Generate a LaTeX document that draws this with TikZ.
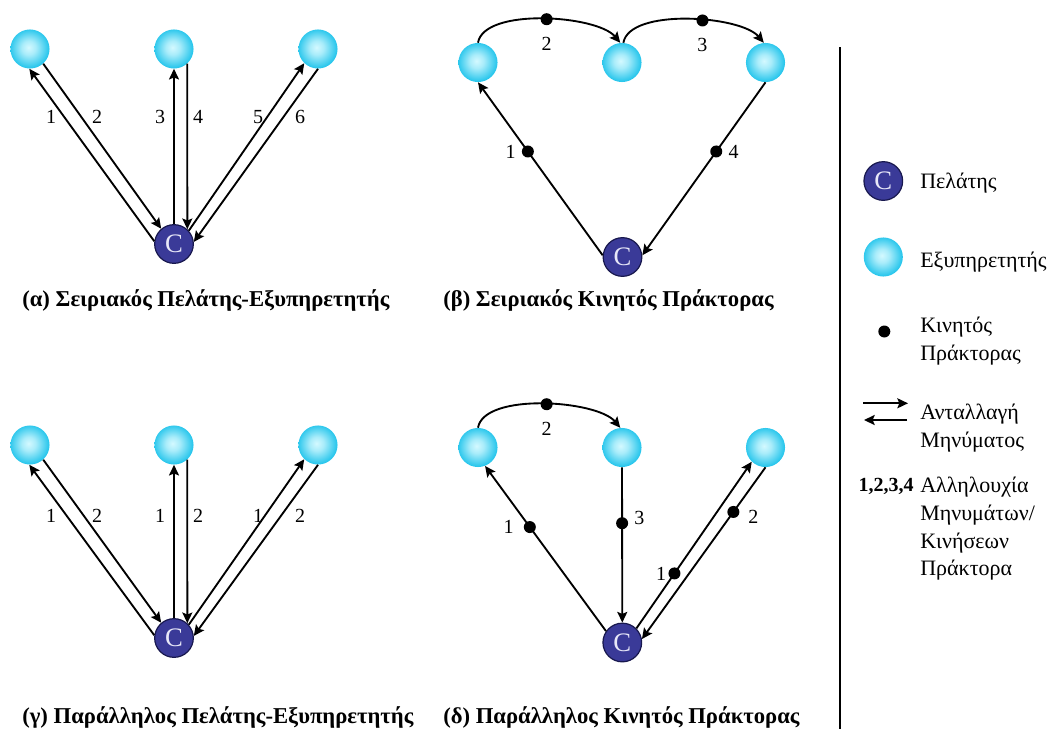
\documentclass[tikz,border=0pt]{standalone}
\usepackage{fontspec}
\setmainfont{Liberation Serif}
\usetikzlibrary{arrows.meta}

\definecolor{srvin}{RGB}{212,249,255}
\definecolor{srvout}{RGB}{40,198,236}
\definecolor{cliblue}{RGB}{58,58,152}
\definecolor{cliedge}{RGB}{24,24,78}
\definecolor{clitext}{RGB}{232,232,248}
\pgfdeclareradialshading{srvball}{\pgfpoint{-2bp}{2bp}}{color(0bp)=(srvin); color(9bp)=(srvin!75!srvout); color(25bp)=(srvout); color(50bp)=(srvout)}

\tikzset{
  srv/.style={circle,inner sep=0pt,minimum size=29.3pt,shading=srvball},
  cli/.style={circle,inner sep=0pt,minimum size=29pt,fill=cliblue,draw=cliedge,line width=.9pt,text=clitext,font=\fontsize{20}{20}\selectfont},
  agent/.style={circle,inner sep=0pt,minimum size=9pt,fill=black},
  msg/.style={line width=1.4pt,-{Stealth[length=8pt,width=7.5pt,inset=1.5pt]}},
  num/.style={font=\fontsize{15}{15}\selectfont,inner sep=0pt},
  captxt/.style={font=\bfseries\fontsize{17}{17}\selectfont,anchor=base west,inner sep=0pt},
  legtxt/.style={font=\fontsize{16.5}{20.8}\selectfont,align=left,anchor=north west,inner sep=0pt},
}

\begin{document}
\begin{tikzpicture}[x=0.75pt,y=-0.75pt,every label/.append style={font=\fontsize{15}{15}\selectfont}]
        \useasboundingbox (0,0) rectangle (1050,729);
        % (a) serial client-server
        \node[srv] (sa1) at (30,49) {};
        \node[srv] (sa2) at (174,49) {};
        \node[srv] (sa3) at (318,49) {};
        \node[cli] (ca) at (174,244) {C};
        \draw[msg] (ca.172) -- (sa1.-92);
        \draw[msg] (sa1.-48) -- (ca.130);
        \draw[msg] (ca.90) -- (sa2.-90);
        \draw[msg] (sa2.-48) -- (ca.48);
        \draw[msg] (ca.42) -- (sa3.-134);
        \draw[msg] (sa3.-90) -- (ca.6);
        \node[num] (na1) at (51,117) {1};
        \node[num] (na2) at (97,117) {2};
        \node[num] (na3) at (160,117) {3};
        \node[num] (na4) at (198,117) {4};
        \node[num] (na5) at (258,117) {5};
        \node[num] (na6) at (300,117) {6};
        \node[captxt] (capa) at (22,306.5) {(α) Σειριακός Πελάτης-Εξυπηρετητής};
        % (b) serial mobile agent
        \node[srv] (sb1) at (478,62.5) {};
        \node[srv] (sb2) at (622,62.5) {};
        \node[srv] (sb3) at (765.5,62.5) {};
        \node[cli] (cb) at (622.5,257) {C};
        \draw[msg] (cb.175) -- node[agent,pos=.6,label=left:1] (mb1) {} (sb1.-90);
        \draw[msg] (sb1.90) to[out=80,in=130,looseness=.65] node[agent,pos=.52,label={[label distance=4pt]below:2}] (mb2) {} (sb2.95);
        \draw[msg] (sb2.86) to[out=80,in=130,looseness=.65] node[agent,pos=.58,label={[label distance=4pt]below:3}] (mb3) {} (sb3.95);
        \draw[msg] (sb3.-90) -- node[agent,pos=.4,label=right:4] (mb4) {} (cb.5);
        \node[captxt] (capb) at (443,306.5) {(β) Σειριακός Κινητός Πράκτορας};
        % (c) parallel client-server
        \node[srv] (sc1) at (30,445) {};
        \node[srv] (sc2) at (174,445) {};
        \node[srv] (sc3) at (318,445) {};
        \node[cli] (cc) at (174,638) {C};
        \draw[msg] (cc.172) -- (sc1.-92);
        \draw[msg] (sc1.-48) -- (cc.130);
        \draw[msg] (cc.90) -- (sc2.-90);
        \draw[msg] (sc2.-48) -- (cc.48);
        \draw[msg] (cc.42) -- (sc3.-134);
        \draw[msg] (sc3.-90) -- (cc.6);
        \node[num] (nc1) at (51,516) {1};
        \node[num] (nc2) at (97,516) {2};
        \node[num] (nc3) at (160,516) {1};
        \node[num] (nc4) at (198,516) {2};
        \node[num] (nc5) at (258,516) {1};
        \node[num] (nc6) at (300,516) {2};
        \node[captxt] (capc) at (22,723.5) {(γ) Παράλληλος Πελάτης-Εξυπηρετητής};
        % (d) parallel mobile agents
        \node[srv] (sd1) at (478,447.5) {};
        \node[srv] (sd2) at (622,447.5) {};
        \node[srv] (sd3) at (765.5,447.5) {};
        \node[cli] (cd) at (622.3,642.5) {C};
        \draw[msg] (sd1.90) to[out=80,in=130,looseness=.65] node[agent,pos=.52,label={[label distance=4pt]below:2}] (md2) {} (sd2.95);
        \draw[msg] (cd.145) -- node[agent,pos=.63,label={[label distance=3pt]left:1}] (md1) {} (sd1.-69);
        \draw[msg] (sd2.-90) -- node[agent,pos=.36,label={[yshift=4pt]right:3}] (md3) {} (cd.90);
        \draw[msg] (cd.45) -- node[agent,pos=.33,label={[label distance=-3pt]left:1}] (md4) {} (sd3.-134);
        \draw[msg] (sd3.-90) -- node[agent,pos=.26,label={[label distance=2pt,yshift=-4pt]right:2}] (md5) {} (cd.10);
        \node[captxt] (capd) at (443,723.5) {(δ) Παράλληλος Κινητός Πράκτορας};
        % legend
        \draw[line width=.8pt] (840,47) -- (840,729);
        \node[cli] (lc) at (883.3,181) {C};
        \node[srv] (ls) at (883.3,257) {};
        \node[agent] (la) at (884.3,331.5) {};
        \coordinate (lm1) at (863,403.3);
        \coordinate (lm2) at (908,403.3);
        \coordinate (lm3) at (864,420);
        \coordinate (lm4) at (907,420);
        \draw[msg] (lm1) -- (lm2);
        \draw[msg] (lm4) -- (lm3);
        \node[legtxt] (lt1) at (920,173) {Πελάτης};
        \node[legtxt] (lt2) at (920,252) {Εξυπηρετητής};
        \node[legtxt] (lt3) at (920,317) {Κινητός\\Πράκτορας};
        \node[legtxt] (lt4) at (920,404) {Ανταλλαγή\\Μηνύματος};
        \node[legtxt] (lt5) at (920,477) {Αλληλουχία\\Μηνυμάτων/\\Κινήσεων\\Πράκτορα};
        \node[font=\bfseries\fontsize{15}{15}\selectfont,anchor=base east,inner sep=0pt] (lseq) at (914,491.7) {1,2,3,4};
\end{tikzpicture}
\end{document}
